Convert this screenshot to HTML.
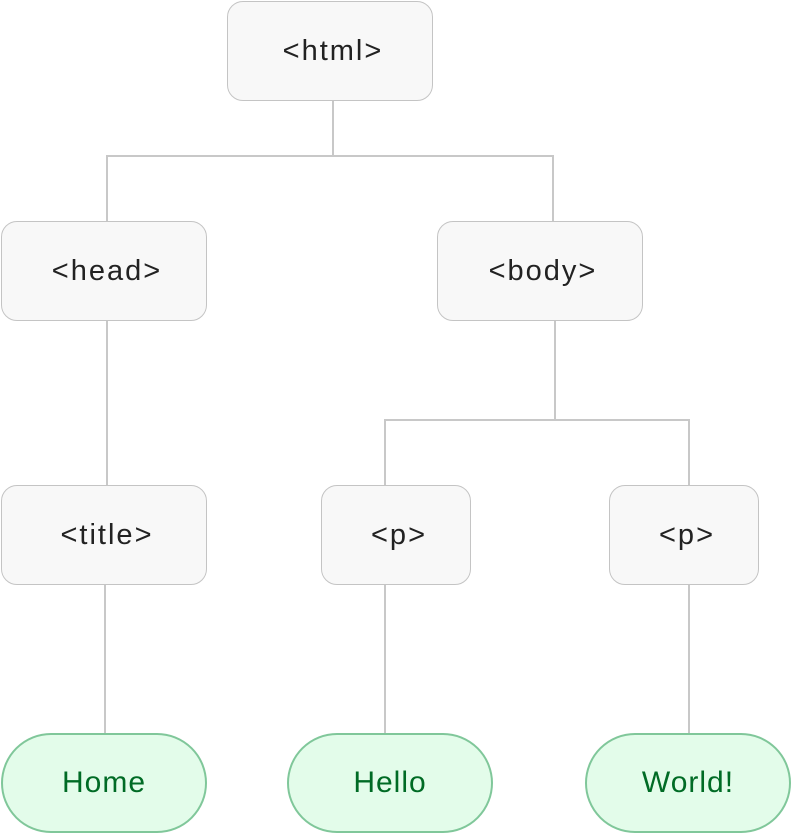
<!DOCTYPE html>
<html><head><meta charset="utf-8"><style>
body{margin:0;width:796px;height:834px;background:#fff;position:relative;font-family:"Liberation Sans",sans-serif;overflow:hidden}
.n{position:absolute;box-sizing:border-box;height:100px;background:#f8f8f8;border:1.5px solid #c4c4c4;border-radius:16px;display:flex;align-items:center;justify-content:center;font-size:29px;letter-spacing:2px;color:#222;padding-left:6px}
.l{position:absolute;box-sizing:border-box;height:100px;background:#e3fcea;border:2px solid #80c79a;border-radius:50px;display:flex;align-items:center;justify-content:center;font-size:30px;letter-spacing:1px;color:#006b25;top:733px}
svg{position:absolute;left:0;top:0}
</style></head><body>
<svg width="796" height="834"><g stroke="#c8c8c8" stroke-width="2" fill="none">
<path d="M333 101V156H107V221M333 156H553V221"/>
<path d="M107 321V485"/>
<path d="M555 321V420H385V485M555 420H689V485"/>
<path d="M105 585V733M385 585V733M689 585V733"/>
</g></svg>
<div class="n" style="left:227px;top:1px;width:206px">&lt;html&gt;</div>
<div class="n" style="left:1px;top:221px;width:206px">&lt;head&gt;</div>
<div class="n" style="left:437px;top:221px;width:206px">&lt;body&gt;</div>
<div class="n" style="left:1px;top:485px;width:206px">&lt;title&gt;</div>
<div class="n" style="left:321px;top:485px;width:150px">&lt;p&gt;</div>
<div class="n" style="left:609px;top:485px;width:150px">&lt;p&gt;</div>
<div class="l" style="left:1px;width:206px">Home</div>
<div class="l" style="left:287px;width:206px">Hello</div>
<div class="l" style="left:585px;width:206px">World!</div>
</body></html>
